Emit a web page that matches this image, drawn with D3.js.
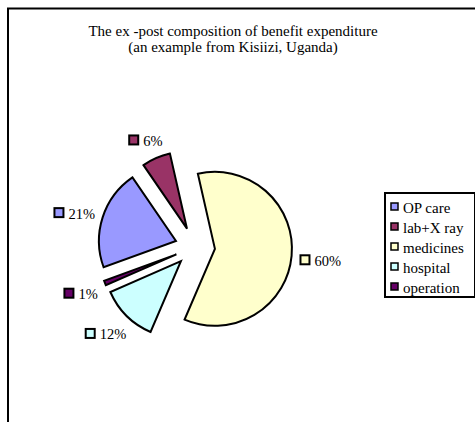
<!DOCTYPE html>
<html>
<head>
<meta charset="utf-8">
<script src="https://cdn.jsdelivr.net/npm/d3@7"></script>
<style>
  body { margin: 0; background: #fff; }
  svg { display: block; }
</style>
</head>
<body>
<svg id="chart" width="475" height="422"></svg>
<script>
// Benefit expenditure shares (%), in legend order
const categories = ["OP care", "lab+X ray", "medicines", "hospital", "operation"];
const shares = [21, 6, 60, 12, 1];
const colors = ["#9999FF", "#993366", "#FFFFCC", "#CCFFFF", "#660066"];
const titleLines = [
  "The ex -post composition of benefit expenditure",
  "(an example from Kisiizi, Uganda)"
];

const FONT = "'Liberation Serif', 'Times New Roman', Times, 'DejaVu Serif', serif";
const svg = d3.select("#chart")
  .attr("font-family", FONT);

// outer chart frame (runs past the right and bottom edges)
svg.append("rect")
  .attr("x", 8).attr("y", 8.5)
  .attr("width", 520).attr("height", 480)
  .attr("fill", "#fff").attr("stroke", "#000").attr("stroke-width", 2);

// title
const title = svg.append("text")
  .attr("text-anchor", "middle")
  .attr("font-family", FONT)
  .attr("font-size", 15)
  .attr("fill", "#000");
titleLines.forEach((t, i) => {
  title.append("tspan").attr("x", 233).attr("y", 36 + i * 16).text(t);
});

// exploded pie
const cx = 195, cy = 247, radius = 77, explode = 20;
const firstAngle = -110 * Math.PI / 180;
const pie = d3.pie().sort(null).value(d => d)
  .startAngle(firstAngle).endAngle(firstAngle + 2 * Math.PI);
const arcs = pie(shares);
const arc = d3.arc().innerRadius(0).outerRadius(radius);

const color = d3.scaleOrdinal().domain(categories).range(colors);

const g = svg.append("g").attr("transform", `translate(${cx},${cy})`);

function dirOf(a) {
  const m = (a.startAngle + a.endAngle) / 2;
  return [Math.sin(m), -Math.cos(m)];
}

g.selectAll("path.slice")
  .data(arcs)
  .join("path")
  .attr("class", "slice")
  .attr("transform", d => {
    const [dx, dy] = dirOf(d);
    return `translate(${dx * explode},${dy * explode})`;
  })
  .attr("d", arc)
  .attr("fill", (d, i) => color(categories[i]))
  .attr("stroke", "#000")
  .attr("stroke-width", 2)
  .attr("stroke-linejoin", "miter");

// data labels: legend key + percentage, placed outside each slice
const labelDist = 86, keySize = 9, keyGap = 5, labelFont = 14.5;
const lab = g.selectAll("g.dlabel")
  .data(arcs)
  .join("g")
  .attr("class", "dlabel");

lab.each(function (d, i) {
  const sel = d3.select(this);
  const [dx, dy] = dirOf(d);
  const txt = sel.append("text")
    .attr("font-family", FONT)
    .attr("font-size", labelFont)
    .attr("fill", "#000")
    .attr("dominant-baseline", "central")
    .text(d3.format(".0f")(d.data) + "%");
  const tw = txt.node().getComputedTextLength();
  const bw = keySize + keyGap + tw, bh = 26;
  const px = dx * (explode + labelDist), py = dy * (explode + labelDist);
  const bcx = px + dx * bw / 2, bcy = py + dy * bh / 2 + 2;
  const left = bcx - bw / 2;
  sel.insert("rect", "text")
    .attr("x", left).attr("y", bcy - keySize / 2)
    .attr("width", keySize).attr("height", keySize)
    .attr("fill", color(categories[i]))
    .attr("stroke", "#000").attr("stroke-width", 2);
  txt.attr("x", left + keySize + keyGap).attr("y", bcy + 1);
});

// legend
const lg = svg.append("g");
const lx = 385, ly = 193, lw = 90, lh = 104, rowH = 20;
lg.append("rect")
  .attr("x", lx).attr("y", ly).attr("width", lw).attr("height", lh)
  .attr("fill", "#fff").attr("stroke", "#000").attr("stroke-width", 2);

const y = d3.scaleBand().domain(categories).range([ly + 4, ly + 4 + rowH * categories.length]);

const rows = lg.selectAll("g.row")
  .data(categories)
  .join("g")
  .attr("class", "row")
  .attr("transform", d => `translate(${lx + 6},${y(d) + y.bandwidth() / 2})`);
rows.append("rect")
  .attr("x", 0).attr("y", -4).attr("width", 7).attr("height", 7)
  .attr("fill", d => color(d))
  .attr("stroke", "#000").attr("stroke-width", 1.5);
rows.append("text")
  .attr("x", 12).attr("y", 1)
  .attr("font-family", FONT)
  .attr("font-size", 15)
  .attr("fill", "#000")
  .attr("dominant-baseline", "central")
  .text(d => d);
</script>
</body>
</html>
